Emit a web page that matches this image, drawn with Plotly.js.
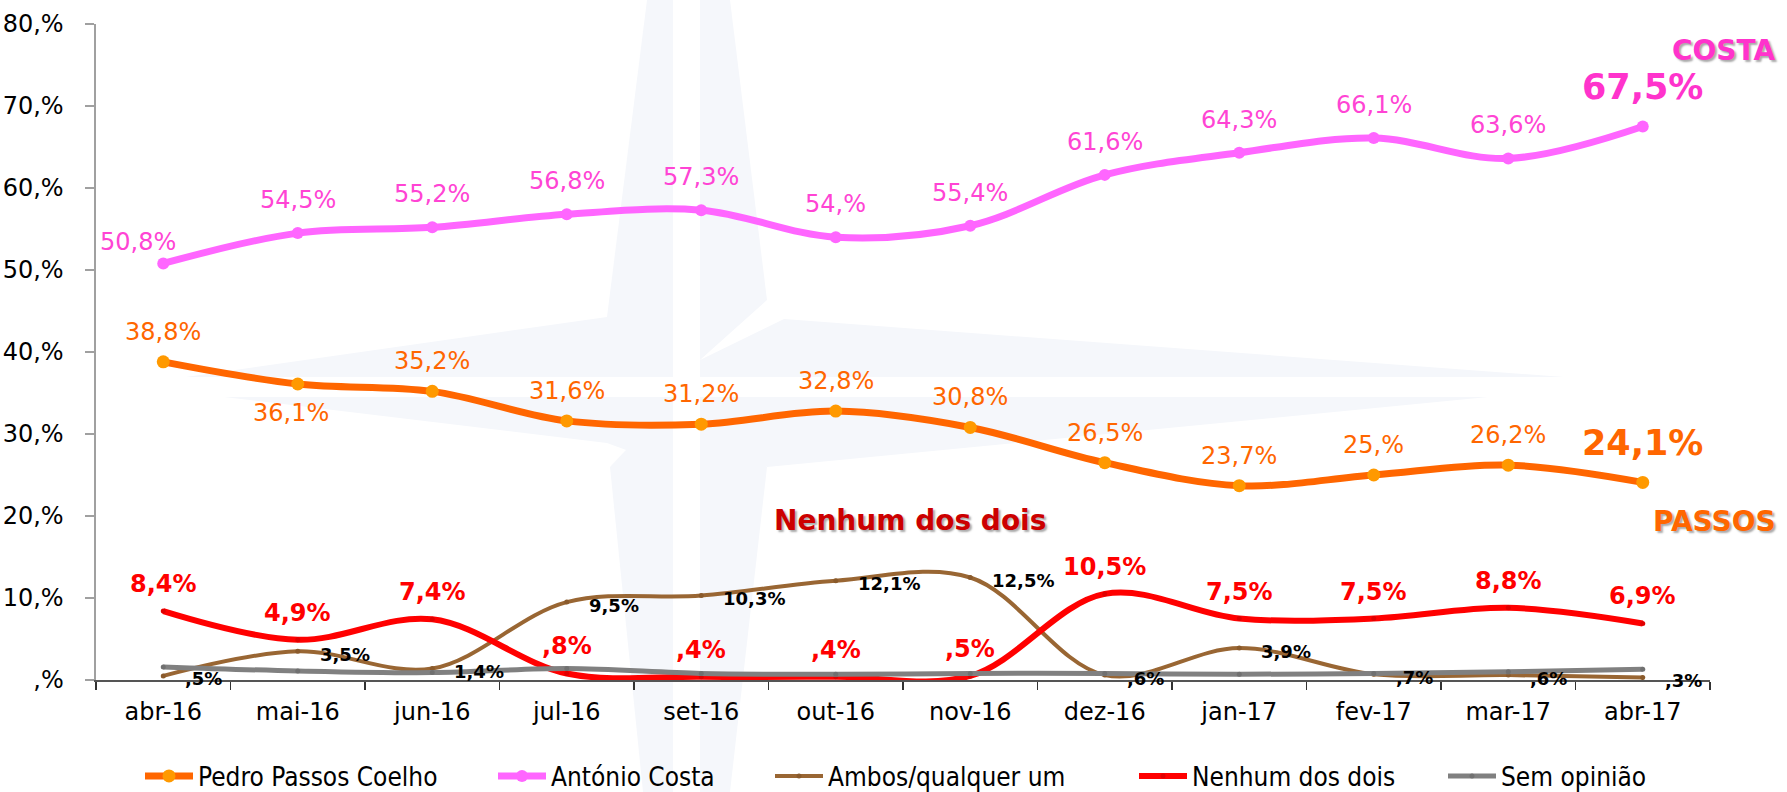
<!DOCTYPE html>
<html><head><meta charset="utf-8">
<script src="https://cdn.plot.ly/plotly-3.0.1.min.js"></script>
<style>html,body{margin:0;padding:0;background:#fff;}#chart{width:1787px;height:792px;}</style>
</head><body><div id="chart"></div>
<script>
// ---------------- DATA ----------------
const months = ["abr-16","mai-16","jun-16","jul-16","set-16","out-16","nov-16","dez-16","jan-17","fev-17","mar-17","abr-17"];
const passosCoelho = [38.8,36.1,35.2,31.6,31.2,32.8,30.8,26.5,23.7,25.0,26.2,24.1];
const antonioCosta = [50.8,54.5,55.2,56.8,57.3,54.0,55.4,61.6,64.3,66.1,63.6,67.5];
const ambosQualquer = [0.5,3.5,1.4,9.5,10.3,12.1,12.5,0.6,3.9,0.7,0.6,0.3];
const nenhumDosDois = [8.4,4.9,7.4,0.8,0.4,0.4,0.5,10.5,7.5,7.5,8.8,6.9];
const semOpiniao = [1.6,1.1,0.9,1.4,0.8,0.7,0.8,0.8,0.7,0.8,1.0,1.3];
const seriesNames = ["Pedro Passos Coelho","António Costa","Ambos/qualquer um","Nenhum dos dois","Sem opinião"];
const yTickVals = [0,10,20,30,40,50,60,70,80];
const yTickLabels = [",%","10,%","20,%","30,%","40,%","50,%","60,%","70,%","80,%"];
const calloutTexts = {costa:"COSTA", passos:"PASSOS", nenhum:"Nenhum dos dois"};

// ---------------- HELPERS ----------------
function fmt(v){
  const p = v.toFixed(1).split('.');
  return (p[0]==='0'?'':p[0]) + ',' + (p[1]==='0'?'':p[1]) + '%';
}
const FONT = "DejaVu Sans, Verdana, sans-serif";
const LEGFONT = "DejaVu Sans Condensed, DejaVu Sans, sans-serif";
const last = months.length - 1;

// plot area in px (for decoration / legend placement)
const ML = 96, MR = 77, MT = 24, MB = 112, W = 1787, H = 792;
const PW = W - ML - MR, PH = H - MT - MB;
const px = X => (X - ML) / PW;
const py = Y => (H - MB - Y) / PH;

// ---------------- TRACES ----------------
function tr(name, y, color, width, mcolor, msize, legendId){
  return {type:'scatter', mode:'lines+markers', name:name, x:months, y:y,
    line:{color:color, width:width, shape:'spline', smoothing:1},
    marker:{color:mcolor, size:msize}, legend:legendId, cliponaxis:true, hoverinfo:'skip'};
}
const traces = [
  tr(seriesNames[0], passosCoelho, '#FF6600', 7, '#FF9900', 13, 'legend'),
  tr(seriesNames[1], antonioCosta, '#FF66FF', 7, '#FF66FF', 12, 'legend2'),
  tr(seriesNames[2], ambosQualquer, '#996633', 4, '#8A5A2B', 5, 'legend3'),
  tr(seriesNames[3], nenhumDosDois, '#FF0000', 6, '#E00000', 5, 'legend4'),
  tr(seriesNames[4], semOpiniao, '#808080', 5, '#707070', 5, 'legend5')
];

// ---------------- LABELS ----------------
const ann = [];
antonioCosta.forEach((v,i)=>{
  if(i===last){
    ann.push({x:months[i], y:v, text:fmt(v), showarrow:false, yshift:40,
      font:{family:FONT, size:35, color:'#FF33CC', weight:'bold'}});
  } else {
    ann.push({x:months[i], y:v, text:fmt(v), showarrow:false,
      yshift: i===0 ? 21 : 33, xshift: i===0 ? -25 : 0,
      font:{family:FONT, size:24, color:'#FF44D4'}});
  }
});
passosCoelho.forEach((v,i)=>{
  if(i===last){
    ann.push({x:months[i], y:v, text:fmt(v), showarrow:false, yshift:39,
      font:{family:FONT, size:35, color:'#FF6600', weight:'bold'}});
  } else {
    ann.push({x:months[i], y:v, text:fmt(v), showarrow:false,
      yshift: i===1 ? -29 : 30, xshift: i===1 ? -7 : 0,
      font:{family:FONT, size:24, color:'#FF6600'}});
  }
});
nenhumDosDois.forEach((v,i)=>{
  ann.push({x:months[i], y:v, text:fmt(v), showarrow:false, yshift:27,
    font:{family:FONT, size:24, color:'#FF0000', weight:'bold'}});
});
ambosQualquer.forEach((v,i)=>{
  ann.push({x:months[i], y:v, text:fmt(v), showarrow:false, xanchor:'left', xshift:20, yshift:-3,
    font:{family:FONT, size:18, color:'#000000', weight:'bold'}});
});
// callouts
const callout = (X, Y, text, color) => ({xref:'paper', yref:'paper', x:px(X), y:py(Y),
  xanchor:'center', yanchor:'middle', text:text, showarrow:false,
  font:{family:FONT, size:28, color:color, weight:'bold', shadow:'2px 2px 2px #aaaaaa'}});
ann.push(callout(1723, 51, calloutTexts.costa, '#FF33CC'));
ann.push(callout(1714, 521, calloutTexts.passos, '#FF6600'));
ann.push(callout(910, 520, calloutTexts.nenhum, '#CC0000'));

// ---------------- WATERMARK (decoration) ----------------
const starParts = [
  [[647,0],[673,0],[673,317],[607,317]],
  [[700,0],[730,0],[767,300],[700,360]],
  [[186,377],[607,317],[673,317],[673,377]],
  [[784,319],[1564,377],[700,377],[700,360]],
  [[224,397],[673,397],[673,467],[607,443]],
  [[770,397],[1488,397],[767,467],[700,420],[700,397]],
  [[610,467],[673,400],[673,792],[643,792]],
  [[700,400],[767,467],[730,792],[700,792]]
];
const shapes = starParts.map(pts=>({type:'path', xref:'paper', yref:'paper', layer:'below',
  path: 'M' + pts.map(p=>px(p[0]).toFixed(5)+','+py(p[1]).toFixed(5)).join('L') + 'Z',
  fillcolor:'#F5F7FB', line:{width:0}}));

// ---------------- LEGENDS ----------------
const legendStarts = [148, 501, 778, 1142, 1451];
const legBase = {orientation:'h', xref:'container', yref:'container', yanchor:'middle', y:1 - 776/H,
  xanchor:'left', bgcolor:'rgba(0,0,0,0)',
  font:{family:LEGFONT, size:26, color:'#000'}, itemwidth:48, borderwidth:0};
const legends = {};
legendStarts.forEach((s,i)=>{
  legends[i===0?'legend':'legend'+(i+1)] = Object.assign({}, legBase, {x:(s-8)/W});
});

const layout = Object.assign({
  width:W, height:H,
  margin:{l:ML, r:MR, t:MT, b:MB, pad:0, autoexpand:false},
  paper_bgcolor:'#FFFFFF', plot_bgcolor:'rgba(0,0,0,0)',
  showlegend:true,
  font:{family:FONT, size:24, color:'#000'},
  xaxis:{type:'category', range:[-0.5, 11.5], showgrid:false, zeroline:false,
    showline:true, linecolor:'#555555', linewidth:1.5,
    ticks:'outside', tickson:'boundaries', ticklen:8, tickcolor:'#333333', tickwidth:1.5,
    tickfont:{family:FONT, size:24, color:'#000'}, ticklabelstandoff:10, fixedrange:true},
  yaxis:{range:[0,80], tickvals:yTickVals, ticktext:yTickLabels, showgrid:false, zeroline:false,
    showline:true, linecolor:'#A0A0A0', linewidth:2.5,
    ticks:'outside', ticklen:9, tickcolor:'#A0A0A0', tickwidth:2,
    tickfont:{family:FONT, size:24, color:'#000'}, ticklabelstandoff:16, fixedrange:true},
  annotations:ann,
  shapes:shapes
}, legends);

Plotly.newPlot('chart', traces, layout, {displayModeBar:false, staticPlot:true});
</script>
</body></html>
